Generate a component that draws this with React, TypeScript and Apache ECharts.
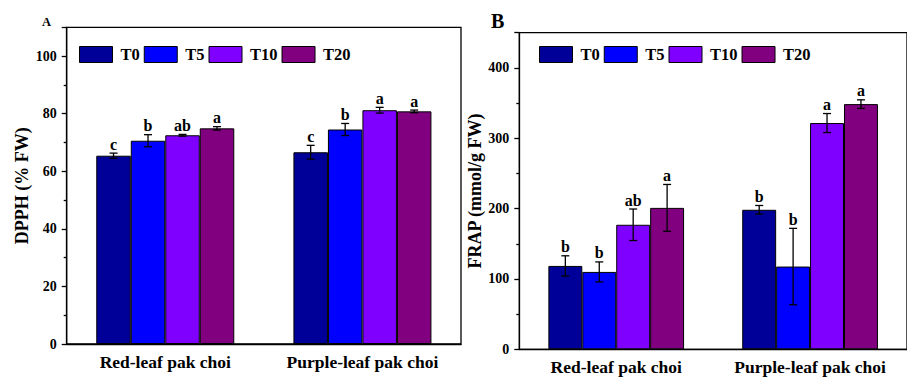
import React, { useEffect, useRef } from "react";
import * as echarts from "echarts";

const categories = ["Red-leaf pak choi", "Purple-leaf pak choi"];
const seriesNames = ["T0", "T5", "T10", "T20"];
const colors = ["#000099", "#0000ff", "#8000ff", "#800080"];

// Panel A: DPPH (% FW), per treatment: [red, purple]
const dpphT0 = [65.4, 66.6];
const dpphT5 = [70.6, 74.5];
const dpphT10 = [72.5, 81.2];
const dpphT20 = [74.9, 80.8];
const dpphErrT0 = [0.9, 2.4];
const dpphErrT5 = [2.1, 2.1];
const dpphErrT10 = [0.3, 1.0];
const dpphErrT20 = [0.6, 0.45];
const dpphLettersT0 = ["c", "c"];
const dpphLettersT5 = ["b", "b"];
const dpphLettersT10 = ["ab", "a"];
const dpphLettersT20 = ["a", "a"];

// Panel B: FRAP (mmol/g FW)
const frapT0 = [118.5, 198.3];
const frapT5 = [110, 117.6];
const frapT10 = [177, 321.6];
const frapT20 = [201, 348.5];
const frapErrT0 = [14.4, 6.1];
const frapErrT5 = [14.2, 54.3];
const frapErrT10 = [22.4, 13.5];
const frapErrT20 = [33.3, 6.1];
const frapLettersT0 = ["b", "b"];
const frapLettersT5 = ["b", "b"];
const frapLettersT10 = ["ab", "a"];
const frapLettersT20 = ["a", "a"];

const FONT = "Liberation Serif";

function buildPanel(
  idx: number,
  values: number[][],
  errs: number[][],
  letters: string[][]
) {
  const bars = values.map((vals, s) => ({
    type: "bar",
    name: seriesNames[s],
    xAxisIndex: idx * 2,
    yAxisIndex: idx,
    data: vals,
    barGap: "0%",
    barCategoryGap: "30%",
    itemStyle: { color: colors[s], borderColor: "#000", borderWidth: 1 },
    z: 2,
  }));
  const errData: number[][] = [];
  const errLetters: string[] = [];
  values.forEach((vals, s) => {
    vals.forEach((v, c) => {
      errData.push([c, s, v, errs[s][c]]);
      errLetters.push(letters[s][c]);
    });
  });
  const custom = {
    type: "custom",
    xAxisIndex: idx * 2,
    yAxisIndex: idx,
    data: errData,
    encode: { x: 0, y: 2 },
    z: 5,
    renderItem: (params: any, api: any) => {
      const c = api.value(0);
      const s = api.value(1);
      const v = api.value(2);
      const e = api.value(3);
      const center = api.coord([c, v]);
      const band = api.size([1, 0])[0];
      const bw = (band * 0.7) / 4;
      const x = center[0] + (s - 1.5) * bw;
      const top = api.coord([c, v + e])[1];
      const bot = api.coord([c, v - e])[1];
      const cap = 4;
      const ls = { stroke: "#000", lineWidth: 1.3 };
      return {
        type: "group",
        children: [
          { type: "line", shape: { x1: x, y1: top, x2: x, y2: bot }, style: ls },
          { type: "line", shape: { x1: x - cap, y1: top, x2: x + cap, y2: top }, style: ls },
          { type: "line", shape: { x1: x - cap, y1: bot, x2: x + cap, y2: bot }, style: ls },
          {
            type: "text",
            x: x,
            y: top - 1,
            style: {
              text: errLetters[params.dataIndex],
              fill: "#000",
              fontFamily: FONT,
              fontWeight: "bold",
              fontSize: 16,
              align: "center",
              verticalAlign: "bottom",
            },
          },
        ],
      };
    },
  };
  return [...bars, custom];
}

export default function App() {
  const ref = useRef<HTMLDivElement>(null);
  useEffect(() => {
    document.body.style.margin = "0";
    const chart = echarts.init(ref.current!, null, { renderer: "svg" });
    const axisLineStyle = { color: "#000", width: 1.3 };
    const labelStyle = { color: "#000", fontFamily: FONT, fontWeight: "bold" as const };
    const grids = [
      { left: 66.7, top: 27.3, right: 446, bottom: 35, show: true, borderColor: "#000", borderWidth: 1.3 },
      { left: 519.3, top: 32.7, right: -6, bottom: 29.7, show: true, borderColor: "#000", borderWidth: 1.3 },
    ];
    const xAxes: any[] = [];
    [0, 1].forEach((g) => {
      xAxes.push({
        type: "category",
        gridIndex: g,
        data: categories,
        axisLine: { lineStyle: axisLineStyle },
        axisTick: { alignWithLabel: true, length: 5, lineStyle: axisLineStyle },
        axisLabel: { ...labelStyle, fontSize: 17.5, margin: 9, interval: 0 },
      });
      xAxes.push({
        type: "category",
        gridIndex: g,
        data: categories,
        position: "bottom",
        axisLine: { show: false },
        axisTick: { length: 3, interval: 0, lineStyle: axisLineStyle },
        axisLabel: { show: false },
      });
    });
    const yAxes = [
      {
        type: "value",
        gridIndex: 0,
        min: 0,
        max: 110,
        interval: 20,
        name: "DPPH (% FW)",
        nameLocation: "middle",
        nameRotate: 90,
        nameGap: 36,
        nameTextStyle: { ...labelStyle, fontSize: 18 },
        axisLine: { show: true, lineStyle: axisLineStyle },
        axisTick: { show: true, length: 5, lineStyle: axisLineStyle },
        minorTick: { show: true, splitNumber: 2, length: 3, lineStyle: axisLineStyle },
        splitLine: { show: false },
        axisLabel: { ...labelStyle, fontSize: 14, margin: 10, showMaxLabel: false },
      },
      {
        type: "value",
        gridIndex: 1,
        min: 0,
        max: 450,
        interval: 100,
        name: "FRAP (mmol/g FW)",
        nameLocation: "middle",
        nameRotate: 90,
        nameGap: 35,
        nameTextStyle: { ...labelStyle, fontSize: 18 },
        axisLine: { show: true, lineStyle: axisLineStyle },
        axisTick: { show: true, length: 5, lineStyle: axisLineStyle },
        minorTick: { show: true, splitNumber: 2, length: 3, lineStyle: axisLineStyle },
        splitLine: { show: false },
        axisLabel: { ...labelStyle, fontSize: 14, margin: 10, showMaxLabel: false },
      },
    ];
    const legendCommon = {
      orient: "horizontal",
      icon: "rect",
      itemWidth: 33,
      itemHeight: 16,
      itemGap: 4,
      padding: 0,
      data: seriesNames,
      selectedMode: false,
      itemStyle: { borderColor: "#000", borderWidth: 1 },
      textStyle: { ...labelStyle, fontSize: 16.5, padding: [0, 0, 0, 3] },
    };
    const option: any = {
      animation: false,
      backgroundColor: "#fff",
      grid: grids,
      xAxis: xAxes,
      yAxis: yAxes,
      legend: [
        { ...legendCommon, left: 79, top: 46 },
        { ...legendCommon, left: 539, top: 46 },
      ],
      title: [
        { text: "A", left: 42, top: 15, padding: 0, textStyle: { ...labelStyle, fontSize: 12.5 } },
        { text: "B", left: 491, top: 11, padding: 0, textStyle: { ...labelStyle, fontSize: 20 } },
      ],
      series: [
        ...buildPanel(
          0,
          [dpphT0, dpphT5, dpphT10, dpphT20],
          [dpphErrT0, dpphErrT5, dpphErrT10, dpphErrT20],
          [dpphLettersT0, dpphLettersT5, dpphLettersT10, dpphLettersT20]
        ),
        ...buildPanel(
          1,
          [frapT0, frapT5, frapT10, frapT20],
          [frapErrT0, frapErrT5, frapErrT10, frapErrT20],
          [frapLettersT0, frapLettersT5, frapLettersT10, frapLettersT20]
        ),
      ],
    };
    chart.setOption(option);
    return () => chart.dispose();
  }, []);
  return <div ref={ref} style={{ width: 907, height: 379 }} />;
}
